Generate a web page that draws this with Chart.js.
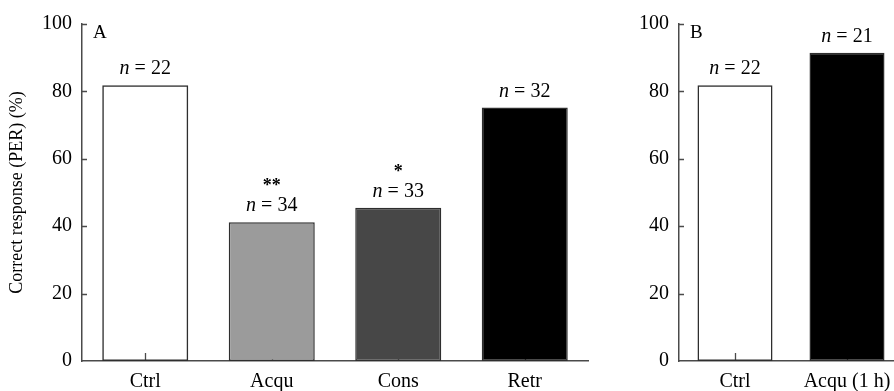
<!DOCTYPE html>
<html>
<head>
<meta charset="utf-8">
<script src="https://cdn.jsdelivr.net/npm/chart.js"></script>
<style>
  html, body { margin: 0; padding: 0; background: #fff; overflow: hidden; }
  #wrap { position: relative; width: 894px; height: 391px; overflow: hidden; }
  canvas { position: absolute; top: 0; }
  #chartA { left: 0; }
  #chartB { left: 600px; }
</style>
</head>
<body>
<div id="wrap">
  <canvas id="chartA" width="600" height="391"></canvas>
  <canvas id="chartB" width="303" height="391"></canvas>
</div>
<script>
// panel A
var catsA = ['Ctrl', 'Acqu', 'Cons', 'Retr'];
var valsA = [81.8, 41.2, 45.5, 75.2];
var nA = [22, 34, 33, 32];
var sigA = ['', '**', '*', ''];
var fillA = ['rgba(255,255,255,0)', '#9b9b9b', '#474747', '#000000'];

// panel B
var catsB = ['Ctrl', 'Acqu (1 h)'];
var valsB = [81.8, 91.5];
var nB = [22, 21];
var sigB = ['', ''];
var fillB = ['rgba(255,255,255,0)', '#000000'];

var yTicks = [0, 20, 40, 60, 80, 100];

var FONT = '"Liberation Serif", "DejaVu Serif", serif';
var AXIS = '#4a4a4a';

// inward tick marks + panel letter + n labels
var decor = {
    id: 'decor',
    beforeDatasetsDraw: function (chart) {
        var ctx = chart.ctx, x = chart.scales.x, y = chart.scales.y, a = chart.chartArea;
        ctx.save();
        ctx.strokeStyle = AXIS;
        ctx.lineWidth = 1.3;
        ctx.beginPath();
        y.ticks.forEach(function (t, i) {
            if (t.value === 0) return;
            var py = Math.round(y.getPixelForTick(i)) + 0.5;
            ctx.moveTo(a.left, py);
            ctx.lineTo(a.left + 5, py);
        });
        x.ticks.forEach(function (t, i) {
            var px = Math.round(x.getPixelForTick(i)) + 0.5;
            ctx.moveTo(px, a.bottom);
            ctx.lineTo(px, a.bottom - 8);
        });
        ctx.stroke();
        ctx.restore();
    },
    afterDatasetsDraw: function (chart, args, opts) {
        var ctx = chart.ctx, a = chart.chartArea;
        ctx.save();
        ctx.fillStyle = '#000';
        ctx.textBaseline = 'alphabetic';
        ctx.textAlign = 'left';
        ctx.font = '19px ' + FONT;
        ctx.fillText(opts.letter, a.left + 11, a.top + 14);

        var bars = chart.getDatasetMeta(0).data;
        bars.forEach(function (bar, i) {
            var base = bar.y - 11;
            var rest = ' = ' + opts.n[i];
            ctx.font = 'italic 20px ' + FONT;
            var w1 = ctx.measureText('n').width;
            ctx.font = '20px ' + FONT;
            var w2 = ctx.measureText(rest).width;
            var x0 = bar.x - (w1 + w2) / 2;
            ctx.textAlign = 'left';
            ctx.font = 'italic 20px ' + FONT;
            ctx.fillText('n', x0, base);
            ctx.font = '20px ' + FONT;
            ctx.fillText(rest, x0 + w1, base);
            if (opts.sig[i]) {
                ctx.textAlign = 'center';
                ctx.font = 'bold 18px ' + FONT;
                ctx.fillText(opts.sig[i], bar.x, base - 20);
            }
        });
        ctx.restore();
    }
};

function makeChart(id, cats, vals, fills, n, sig, letter, yWidth, padRight, barPct, showTitle) {
    return new Chart(document.getElementById(id), {
        type: 'bar',
        data: {
            labels: cats,
            datasets: [{
                data: vals,
                backgroundColor: fills,
                borderColor: '#2e2e2e',
                borderWidth: 1.5,
                borderSkipped: false,
                barPercentage: barPct,
                categoryPercentage: 1
            }]
        },
        options: {
            responsive: false,
            animation: false,
            layout: { padding: { left: 0, right: padRight, top: 24, bottom: 0 } },
            plugins: {
                legend: { display: false },
                tooltip: { enabled: false },
                decor: { letter: letter, n: n, sig: sig }
            },
            scales: {
                x: {
                    grid: { display: false, drawTicks: false },
                    border: { display: true, color: AXIS, width: 1.5 },
                    ticks: { color: '#000', font: { family: FONT, size: 20 }, padding: 9, maxRotation: 0 },
                    afterFit: function (s) { s.height = 30; }
                },
                y: {
                    min: 0,
                    max: 100,
                    afterBuildTicks: function (s) { s.ticks = yTicks.map(function (v) { return { value: v }; }); },
                    grid: { display: false, drawTicks: false },
                    border: { display: true, color: AXIS, width: 1.5 },
                    ticks: { color: '#000', font: { family: FONT, size: 20 }, padding: 10 },
                    title: {
                        display: showTitle,
                        text: 'Correct response (PER) (%)',
                        color: '#000',
                        font: { family: FONT, size: 18 },
                        padding: { top: 6, bottom: 0 }
                    },
                    afterFit: function (s) { s.width = yWidth; }
                }
            }
        },
        plugins: [decor]
    });
}

makeChart('chartA', catsA, valsA, fillA, nA, sigA, 'A', 82, 12, 0.68, true);
makeChart('chartB', catsB, valsB, fillB, nB, sigB, 'B', 79, 0, 0.67, false);
</script>
</body>
</html>
